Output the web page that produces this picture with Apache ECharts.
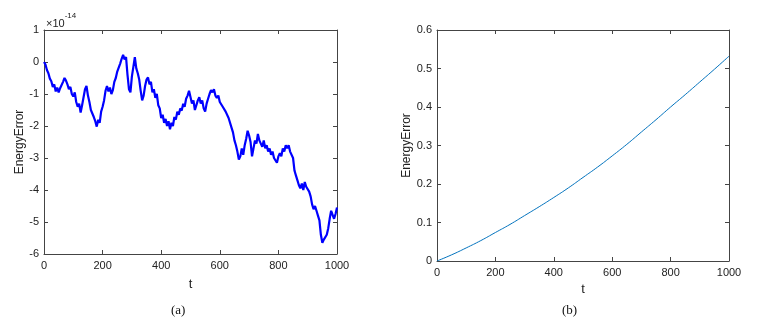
<!DOCTYPE html>
<html>
<head>
<meta charset="utf-8">
<script src="https://cdn.jsdelivr.net/npm/echarts@6/dist/echarts.min.js"></script>
<style>
  html, body { margin: 0; padding: 0; background: #fff; }
  #chart { width: 764px; height: 324px; }
</style>
</head>
<body>
<div id="chart"></div>
<script>
  // (a) energy error, units of 1e-14, sampled every 5 in t
  const tStepA = 5;
  const errorA = [
    0.00, -0.08, -0.25, -0.35, -0.52, -0.60, -0.78, -0.70, -0.92, -0.80,
    -0.95, -0.82, -0.88, -0.62, -0.50, -0.58, -0.70, -0.85, -0.78, -1.00,
    -1.08, -0.95, -1.25, -1.40, -1.30, -1.58, -1.35, -1.10, -0.85, -0.75,
    -1.05, -1.25, -1.50, -1.45, -1.72, -1.85, -2.02, -1.80, -1.90, -1.55,
    -1.40, -1.20, -0.90, -0.75, -0.92, -0.80, -1.00, -0.88, -0.62, -0.50,
    -0.30, -0.35, -0.05, 0.10, 0.22, 0.08, 0.15, -0.40, -0.85, -0.95,
    -0.45, -0.15, 0.15, -0.20, -0.35, -0.55, -0.90, -1.20, -1.05, -0.75,
    -0.55, -0.48, -0.70, -0.62, -0.95, -0.85, -1.12, -1.00, -1.35, -1.45,
    -1.75, -1.65, -1.90, -1.78, -2.00, -1.85, -2.10, -1.90, -2.00, -1.72,
    -1.80, -1.55, -1.65, -1.45, -1.52, -1.30, -1.40, -1.15, -1.05, -0.90,
    -0.95, -1.30, -1.20, -1.50, -1.35, -1.20, -1.10, -1.30, -1.20, -1.45,
    -1.55, -1.30, -1.15, -1.00, -0.88, -0.95, -0.85, -1.05, -1.12, -1.05,
    -1.25, -1.20, -1.40, -1.35, -1.55, -1.50, -1.75, -1.80, -2.05, -2.20,
    -2.45, -2.60, -2.80, -3.05, -2.95, -2.70, -2.90, -2.60, -2.40, -2.15,
    -2.30, -2.50, -2.95, -2.70, -2.45, -2.55, -2.25, -2.45, -2.55, -2.65,
    -2.45, -2.70, -2.60, -2.80, -2.70, -2.90, -2.80, -3.00, -2.95, -3.15,
    -2.95, -2.85, -2.95, -2.70, -2.80, -2.60, -2.70, -2.60, -2.80, -2.75,
    -3.00, -3.40, -3.55, -3.70, -3.85, -3.95, -3.80, -4.00, -3.75, -3.90,
    -3.85, -4.05, -4.20, -4.45, -4.60, -4.50, -4.65, -4.80, -4.95, -5.40,
    -5.65, -5.55, -5.50, -5.40, -5.20, -4.90, -4.65, -4.70, -4.90, -4.75,
    -4.55
  ];

  // (b) energy error, sampled every 50 in t
  const tStepB = 50;
  const errorB = [
    0, 0.016, 0.034, 0.053, 0.074, 0.095, 0.118, 0.141, 0.165, 0.190,
    0.217, 0.244, 0.273, 0.303, 0.335, 0.367, 0.400, 0.432, 0.465, 0.498,
    0.532
  ];

  const pointsA = errorA.map((v, i) => [i * tStepA, v]);
  const pointsB = errorB.map((v, i) => [i * tStepB, v]);

  const axisColor = '#444';
  const labelFont = { fontFamily: 'Liberation Sans', fontSize: 11, color: '#222' };

  // box axes with ticks pointing in, like the original figure
  const boxX = (gridIndex, top) => ({
    type: 'value', gridIndex, position: top ? 'top' : 'bottom',
    min: 0, max: 1000, interval: 200,
    axisLine: { show: true, onZero: false, lineStyle: { color: axisColor, width: 1 } },
    axisTick: { show: true, inside: true, length: 4, lineStyle: { color: axisColor } },
    axisLabel: top ? { show: false } : Object.assign({ margin: 6, formatter: v => String(v) }, labelFont),
    splitLine: { show: false },
    name: top ? '' : 't',
    nameLocation: 'middle',
    nameGap: gridIndex === 0 ? 24 : 15,
    nameTextStyle: { fontFamily: 'Liberation Sans', fontSize: 13, color: '#222' }
  });

  const boxY = (gridIndex, right, min, max, interval, gap) => ({
    type: 'value', gridIndex, position: right ? 'right' : 'left',
    min, max, interval,
    axisLine: { show: true, onZero: false, lineStyle: { color: axisColor, width: 1 } },
    axisTick: { show: true, inside: true, length: 4, lineStyle: { color: axisColor } },
    axisLabel: right ? { show: false } : Object.assign({ margin: 5 }, labelFont),
    splitLine: { show: false },
    name: right ? '' : 'EnergyError',
    nameLocation: 'middle',
    nameGap: gap,
    nameTextStyle: { fontFamily: 'Liberation Sans', fontSize: 12, color: '#222' }
  });

  const chart = echarts.init(document.getElementById('chart'));

  const option = {
    backgroundColor: '#fff',
    animation: false,
    grid: [
      { left: 44, top: 30, width: 293, height: 224 },
      { left: 437, top: 30, width: 292, height: 231 }
    ],
    xAxis: [boxX(0, false), boxX(0, true), boxX(1, false), boxX(1, true)],
    yAxis: [
      boxY(0, false, -6, 1, 1, 16),
      boxY(0, true, -6, 1, 1, 0),
      boxY(1, false, 0, 0.6, 0.1, 19),
      boxY(1, true, 0, 0.6, 0.1, 0)
    ],
    series: [
      {
        type: 'line', xAxisIndex: 0, yAxisIndex: 0,
        data: pointsA, showSymbol: false,
        lineStyle: { color: '#0000ff', width: 2.2 }
      },
      {
        type: 'line', xAxisIndex: 2, yAxisIndex: 2,
        data: pointsB, showSymbol: false, smooth: true,
        lineStyle: { color: '#0072bd', width: 1 }
      }
    ],
    graphic: [
      {
        type: 'text', left: 46, top: 12,
        style: {
          text: '{b|×10}{s|-14}',
          rich: {
            b: { fontFamily: 'Liberation Sans', fontSize: 11, fill: '#222', padding: [6, 0, 0, 0] },
            s: { fontFamily: 'Liberation Sans', fontSize: 8, fill: '#222', verticalAlign: 'top' }
          }
        }
      },
      {
        type: 'text', left: 171, top: 304,
        style: { text: '(a)', fontFamily: 'Liberation Serif', fontSize: 13, fill: '#111' }
      },
      {
        type: 'text', left: 562, top: 304,
        style: { text: '(b)', fontFamily: 'Liberation Serif', fontSize: 13, fill: '#111' }
      }
    ]
  };

  option && chart.setOption(option);
</script>
</body>
</html>
